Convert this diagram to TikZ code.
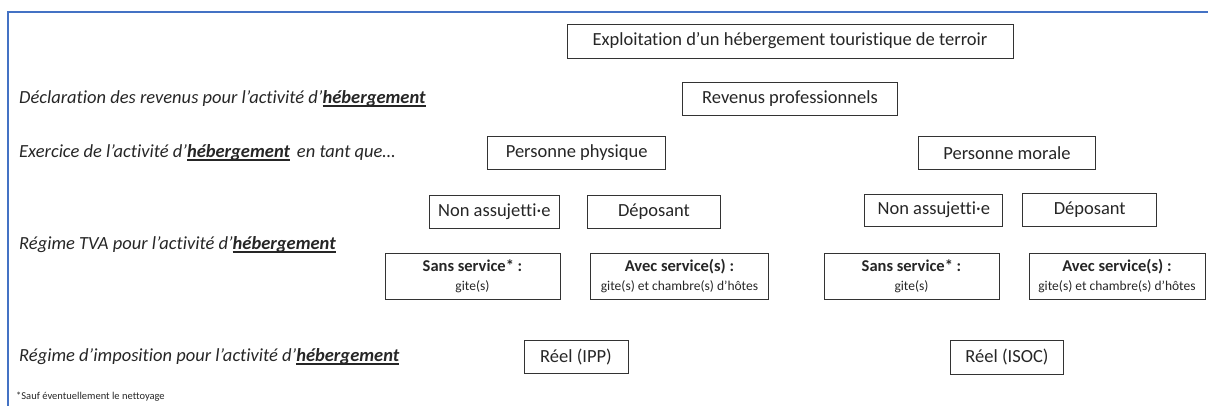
\documentclass[tikz,border=0pt]{standalone}
\usepackage{fontspec}
\setmainfont{Carlito}[Ligatures=CommonOff]
\definecolor{frameblue}{HTML}{4472C4}
\definecolor{txt}{HTML}{262626}
\newcommand{\myul}[1]{\setbox0=\hbox{#1}\rlap{\rule[-2.8pt]{\wd0}{1.3pt}}\box0}
\newcommand{\heb}{\myul{\textbf{hébergement}}}
\begin{document}
\begin{tikzpicture}[x=1pt,y=-1pt,
  box/.style={draw=black!80, line width=1pt, inner sep=0pt, text=txt, font=\fontsize{18.5}{22}\selectfont},
  tbox/.style={box, align=center, font=\fontsize{16.5}{19}\selectfont},
  lab/.style={anchor=west, inner sep=0pt, text=txt, font=\fontsize{18.5}{22}\selectfont\itshape}]
\useasboundingbox (0,0) rectangle (1208,405);
\draw[frameblue, line width=1.3pt] (8,420) -- (8,12) -- (1220,12);
% boxes
\node[box, minimum width=446pt, minimum height=34pt] (expl) at (790,41) {Exploitation d’un hébergement touristique de terroir};
\node[box, minimum width=215pt, minimum height=33pt] (rev) at (790,99) {Revenus professionnels};
\node[box, minimum width=178pt, minimum height=33pt] (pp) at (576.7,153) {Personne physique};
\node[box, minimum width=177pt, minimum height=33pt] (pm) at (1007,153) {Personne morale};
\node[box, minimum width=130pt, minimum height=33pt] (napp) at (494.3,211.5) {Non assujetti·e};
\node[box, minimum width=133pt, minimum height=33pt] (deppp) at (654,211.5) {Déposant};
\node[box, minimum width=138pt, minimum height=32pt] (napm) at (933.8,210) {Non assujetti·e};
\node[box, minimum width=134pt, minimum height=33pt] (deppm) at (1089.7,209.7) {Déposant};
\node[tbox, minimum width=175pt, minimum height=46pt] (sspp) at (472.5,276) {\textbf{Sans service* :}\\[0pt]{\fontsize{13.5}{15}\selectfont gite(s)}};
\node[tbox, minimum width=178pt, minimum height=46pt] (aspp) at (679.5,276) {\textbf{Avec service(s) :}\\[0pt]{\fontsize{13.5}{15}\selectfont gite(s) et chambre(s) d’hôtes}};
\node[tbox, minimum width=175pt, minimum height=46pt] (sspm) at (911.5,276) {\textbf{Sans service* :}\\[0pt]{\fontsize{13.5}{15}\selectfont gite(s)}};
\node[tbox, minimum width=176pt, minimum height=46pt] (aspm) at (1117,276) {\textbf{Avec service(s) :}\\[0pt]{\fontsize{13.5}{15}\selectfont gite(s) et chambre(s) d’hôtes}};
\node[box, minimum width=104pt, minimum height=33pt] (ipp) at (576,357.3) {Réel (IPP)};
\node[box, minimum width=113pt, minimum height=34pt] (isoc) at (1007,357.5) {Réel (ISOC)};
% left labels
\node[lab] (l1) at (19,99) {Déclaration des revenus pour l’activité d’\heb};
\node[lab] (l2) at (19,153) {Exercice de l’activité d’\heb{}\hspace{0.15em} en tant que…};
\node[lab] (l3) at (19,245) {Régime TVA pour l’activité d’\heb};
\node[lab] (l4) at (19,357) {Régime d’imposition pour l’activité d’\heb};
\node[anchor=west, inner sep=0pt, text=txt, font=\fontsize{10.5}{12}\selectfont] (fn) at (16,397) {*Sauf éventuellement le nettoyage};
\end{tikzpicture}
\end{document}
